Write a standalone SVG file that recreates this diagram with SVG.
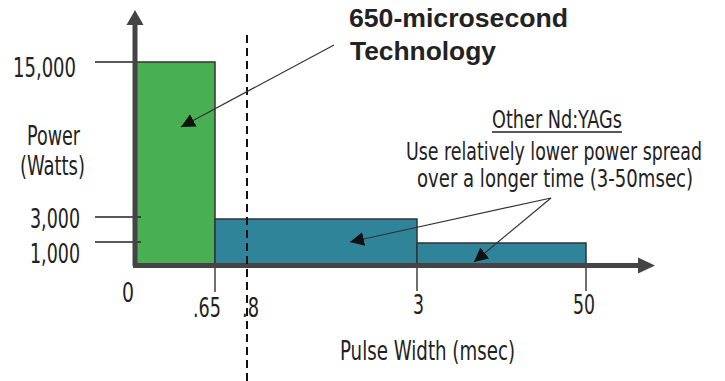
<svg xmlns="http://www.w3.org/2000/svg" width="725" height="381" viewBox="0 0 725 381">
<defs>
<style>
.lbl{font-family:"Liberation Sans Narrow","DejaVu Sans Condensed","Liberation Sans",sans-serif;font-size:26px;fill:#222}
.note{font-family:"Liberation Sans Narrow","DejaVu Sans Condensed","Liberation Sans",sans-serif;font-size:24px;fill:#222}
.bold{font-family:"Liberation Sans",Arial,sans-serif;font-size:25px;font-weight:bold;fill:#222}
.tick{stroke:#222;stroke-width:1.3;fill:none}
.axis{stroke:#444;stroke-width:5;fill:none}
.ptr{stroke:#333;stroke-width:1.2;fill:none;marker-end:url(#ah)}
.bar{stroke:#333;stroke-width:1.5}
</style>
<marker id="ah" viewBox="0 0 10 10" refX="10" refY="5" markerWidth="14" markerHeight="14" markerUnits="userSpaceOnUse" orient="auto">
<path d="M0,0 L10,5 L0,10 Z" fill="#111"/>
</marker>
</defs>
<g id="bars">
<rect id="green-bar" class="bar" x="135" y="62" width="80" height="203" fill="#48AF53"/>
<rect id="teal-bar1" class="bar" x="215" y="219" width="202" height="46" fill="#2F8499"/>
<rect id="teal-bar2" class="bar" x="417" y="243" width="169" height="22" fill="#2F8499"/>
</g>
<g id="ticks">
<line class="tick" x1="95" y1="62" x2="135" y2="62"/>
<line class="tick" x1="95" y1="217" x2="141" y2="217"/>
<line class="tick" x1="95" y1="242" x2="141" y2="242"/>
<line class="tick" x1="215" y1="265" x2="215" y2="292"/>
<line class="tick" x1="417" y1="265" x2="417" y2="291"/>
<line class="tick" x1="586" y1="265" x2="586" y2="291"/>
</g>
<g id="axes">
<line class="axis" x1="135" y1="266" x2="135" y2="23"/>
<path d="M135,10 L143.5,25 L126.5,25 Z" fill="#444"/>
<line class="axis" x1="133" y1="265.5" x2="640" y2="265.5"/>
<path d="M655,265.5 L638,257.5 L638,273.5 Z" fill="#444"/>
</g>
<line id="dashed" x1="247" y1="35" x2="247" y2="381" stroke="#111" stroke-width="2" stroke-dasharray="8,5"/>
<g id="connectors">
<line class="ptr" x1="334" y1="45" x2="181" y2="127"/>
<line class="ptr" x1="551" y1="198" x2="350" y2="242"/>
<line class="ptr" x1="551" y1="198" x2="474" y2="262"/>
</g>
<g id="labels">
<text class="lbl" x="13" y="77" textLength="63" lengthAdjust="spacingAndGlyphs">15,000</text>
<text class="lbl" x="27" y="145" textLength="53" lengthAdjust="spacingAndGlyphs">Power</text>
<text class="lbl" x="20" y="175" textLength="65" lengthAdjust="spacingAndGlyphs">(Watts)</text>
<text class="lbl" x="30" y="228" textLength="50" lengthAdjust="spacingAndGlyphs">3,000</text>
<text class="lbl" x="30" y="263" textLength="50" lengthAdjust="spacingAndGlyphs">1,000</text>
<text class="lbl" x="122" y="302" textLength="12" lengthAdjust="spacingAndGlyphs">0</text>
<text class="lbl" x="193" y="317" textLength="28" lengthAdjust="spacingAndGlyphs">.65</text>
<text class="lbl" x="242" y="317" textLength="17" lengthAdjust="spacingAndGlyphs">.8</text>
<text class="lbl" x="413" y="314" textLength="11" lengthAdjust="spacingAndGlyphs">3</text>
<text class="lbl" x="573" y="314" textLength="22" lengthAdjust="spacingAndGlyphs">50</text>
<text class="lbl" x="340" y="360" textLength="175" lengthAdjust="spacingAndGlyphs">Pulse Width (msec)</text>
</g>
<g id="title">
<text class="bold" x="349" y="27" textLength="219" lengthAdjust="spacingAndGlyphs">650-microsecond</text>
<text class="bold" x="350" y="60" textLength="146" lengthAdjust="spacingAndGlyphs">Technology</text>
</g>
<g id="note">
<text class="note" x="492" y="128" textLength="130" lengthAdjust="spacingAndGlyphs">Other Nd:YAGs</text>
<line x1="492" y1="132" x2="622" y2="132" stroke="#222" stroke-width="1.3"/>
<text class="note" x="406" y="160" textLength="296" lengthAdjust="spacingAndGlyphs">Use relatively lower power spread</text>
<text class="note" x="417" y="187" textLength="276" lengthAdjust="spacingAndGlyphs">over a longer time (3-50msec)</text>
</g>
</svg>
